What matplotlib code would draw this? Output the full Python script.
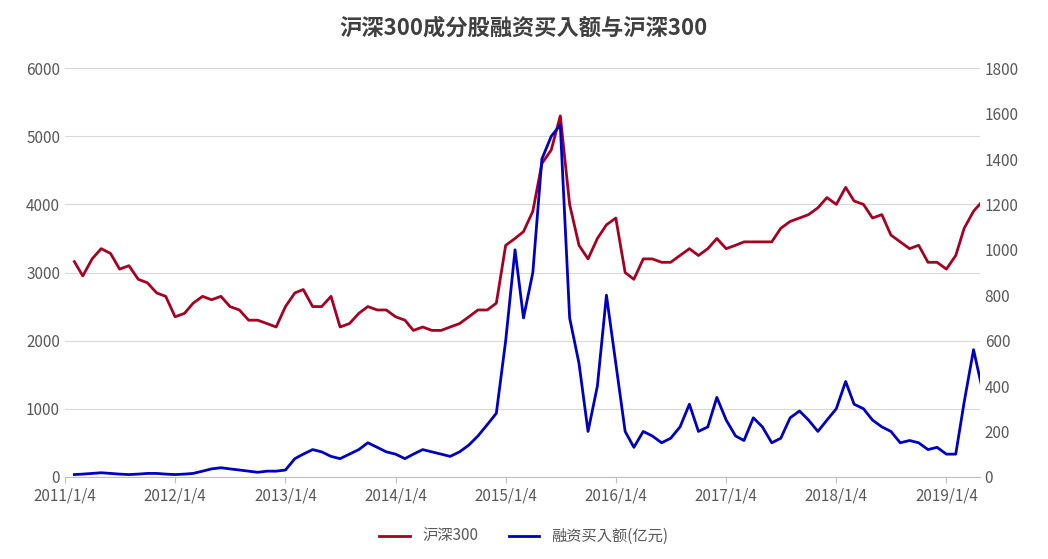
import matplotlib
matplotlib.use("Agg")
import matplotlib.pyplot as plt
from matplotlib import font_manager as fm
import pandas as pd

cjk = None
for f in fm.findSystemFonts():
    if "CJK" in f or "cjk" in f.lower():
        try:
            fm.fontManager.addfont(f)
            name = fm.FontProperties(fname=f).get_name()
            if cjk is None or "SC" in name:
                cjk = name
        except Exception:
            pass
plt.rcParams["font.family"] = [cjk or "Noto Sans CJK SC", "DejaVu Sans"]

months = pd.date_range("2011-01-04", periods=100, freq="MS") + pd.Timedelta(days=3)
hs300 = [3160,2950,3200,3350,3280,3050,3100,2900,2850,2700,2650,2350,
         2400,2550,2650,2600,2650,2500,2450,2300,2300,2250,2200,2500,
         2700,2750,2500,2500,2650,2200,2250,2400,2500,2450,2450,2350,
         2300,2150,2200,2150,2150,2200,2250,2350,2450,2450,2550,3400,
         3500,3600,3900,4600,4800,5300,4000,3400,3200,3500,3700,3800,
         3000,2900,3200,3200,3150,3150,3250,3350,3250,3350,3500,3350,
         3400,3450,3450,3450,3450,3650,3750,3800,3850,3950,4100,4000,
         4250,4050,4000,3800,3850,3550,3450,3350,3400,3150,3150,3050,
         3250,3650,3900,4050]
margin = [10,12,15,18,15,12,10,12,15,15,12,10,
          12,15,25,35,40,35,30,25,20,25,25,30,
          80,100,120,110,90,80,100,120,150,130,110,100,
          80,100,120,110,100,90,110,140,180,230,280,600,
          1000,700,900,1400,1500,1550,700,500,200,400,800,500,
          200,130,200,180,150,170,220,320,200,220,350,250,
          180,160,260,220,150,170,260,290,250,200,250,300,
          420,320,300,250,220,200,150,160,150,120,130,100,
          100,330,560,380]
year_ticks = pd.to_datetime([f"{y}-01-04" for y in range(2011, 2020)])
year_labels = [f"{y}/1/4" for y in range(2011, 2020)]

fig, ax = plt.subplots(figsize=(10.48, 5.59), dpi=100)
fig.subplots_adjust(left=0.062, right=0.935, top=0.878, bottom=0.147)
ax2 = ax.twinx()
l1, = ax.plot(months, hs300, color="#A50021", lw=2, label="沪深300")
l2, = ax2.plot(months, margin, color="#0000C0", lw=2, label="融资买入额(亿元)")
ax.set_ylim(0, 6000); ax2.set_ylim(0, 1800)
ax.set_yticks(range(0, 6001, 1000)); ax2.set_yticks(range(0, 1801, 200))
ax.set_xlim(pd.Timestamp("2011-01-04"), pd.Timestamp("2019-04-25"))
ax.set_xticks(year_ticks); ax.set_xticklabels(year_labels)
ax.grid(axis="y", color="#d9d9d9", lw=0.8)
ax.set_axisbelow(True)
for a in (ax, ax2):
    for s in a.spines.values():
        s.set_visible(False)
    a.tick_params(length=0, labelsize=11, colors="#595959")
ax.spines["bottom"].set_visible(True); ax.spines["bottom"].set_color("#bfbfbf")
ax.tick_params(axis="x", length=4, color="#bfbfbf")
fig.suptitle("沪深300成分股融资买入额与沪深300", fontsize=16, fontweight="bold", color="#404040", y=0.97)
fig.legend(handles=[l1, l2], loc="lower center", ncol=2, frameon=False, fontsize=11,
           bbox_to_anchor=(0.5, 0.0), labelcolor="#595959")
fig.savefig("out.png")
